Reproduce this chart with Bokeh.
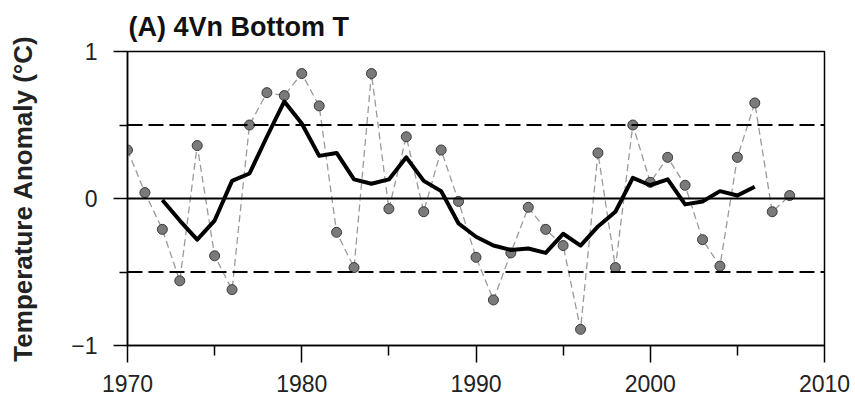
from bokeh.plotting import figure
from bokeh.models import FixedTicker, Span, ColumnDataSource
from bokeh.embed import file_html
from bokeh.resources import INLINE

# Annual bottom temperature anomalies (°C)
years = list(range(1970, 2009))
anomaly = [0.33, 0.04, -0.21, -0.56, 0.36, -0.39, -0.62, 0.50, 0.72, 0.70,
           0.85, 0.63, -0.23, -0.47, 0.85, -0.07, 0.42, -0.09, 0.33, -0.02,
           -0.40, -0.69, -0.37, -0.06, -0.21, -0.32, -0.89, 0.31, -0.47, 0.50,
           0.11, 0.28, 0.09, -0.28, -0.46, 0.28, 0.65, -0.09, 0.02]

# 5-year running mean
smooth_years = list(range(1972, 2007))
smooth = [-0.01, -0.15, -0.28, -0.15, 0.12, 0.17, 0.42, 0.66, 0.51, 0.29,
          0.31, 0.13, 0.10, 0.13, 0.28, 0.12, 0.05, -0.17, -0.26, -0.32,
          -0.35, -0.34, -0.37, -0.24, -0.32, -0.19, -0.09, 0.14, 0.09, 0.13,
          -0.04, -0.02, 0.05, 0.02, 0.08]

x_ticks = [1970, 1980, 1990, 2000, 2010]
x_minor = [1975, 1985, 1995, 2005]
y_ticks = [-1, 0, 1]
y_minor = [-0.5, 0.5]
dashed_levels = [-0.5, 0.5]
solid_levels = [0]

FONT = "Liberation Sans"

p = figure(width=855, height=398, x_range=(1970, 2010), y_range=(-1, 1),
           output_backend="svg", toolbar_location=None,
           min_border_left=127, min_border_right=31,
           min_border_top=51, min_border_bottom=53)

p.title.text = "(A) 4Vn Bottom T"
p.title.text_font = FONT
p.title.text_font_size = "27px"
p.title.text_font_style = "bold"
p.title.text_color = "#111111"
p.title.align = "left"
p.title.offset = 1
p.title.standoff = 19

p.grid.visible = False
p.background_fill_color = "white"
p.border_fill_color = "white"
p.outline_line_color = "black"
p.outline_line_width = 1.5

for lv in dashed_levels:
    p.add_layout(Span(location=lv, dimension="width", line_color="black",
                      line_width=2, line_dash="15 6"))
for lv in solid_levels:
    p.add_layout(Span(location=lv, dimension="width", line_color="black",
                      line_width=1.8))

src = ColumnDataSource(dict(x=years, y=anomaly))
p.line("x", "y", source=src, line_color="#9a9a9a", line_width=1.3,
       line_dash="7 4")
p.scatter("x", "y", source=src, size=10, fill_color="#7a7a7a",
          line_color="#3a3a3a", line_width=1)

p.line(smooth_years, smooth, line_color="black", line_width=4,
       line_join="round")

# x axis
xa = p.xaxis[0]
xa.ticker = FixedTicker(ticks=x_ticks, minor_ticks=x_minor)
xa.axis_line_color = "black"
xa.axis_line_width = 1.5
xa.major_tick_line_width = 1.5
xa.minor_tick_line_width = 1.5
xa.major_tick_in = 0
xa.major_tick_out = 17
xa.minor_tick_in = 0
xa.minor_tick_out = 10
xa.major_label_text_font = FONT
xa.major_label_text_font_size = "23px"
xa.major_label_text_color = "#222222"
xa.major_label_standoff = 12

# y axis
ya = p.yaxis[0]
ya.ticker = FixedTicker(ticks=y_ticks, minor_ticks=y_minor)
ya.axis_line_color = "black"
ya.axis_line_width = 1.5
ya.major_tick_line_width = 1.5
ya.minor_tick_line_width = 1.5
ya.major_tick_in = 0
ya.major_tick_out = 14
ya.minor_tick_in = 0
ya.minor_tick_out = 8
ya.major_label_text_font = FONT
ya.major_label_text_font_size = "23px"
ya.major_label_text_color = "#222222"
ya.major_label_standoff = 16
ya.axis_label = "Temperature Anomaly (°C)"
ya.axis_label_text_font = FONT
ya.axis_label_text_font_size = "26px"
ya.axis_label_text_font_style = "bold"
ya.axis_label_text_color = "#222222"
ya.axis_label_standoff = 30

open("out.html", "w").write(file_html(p, INLINE))
